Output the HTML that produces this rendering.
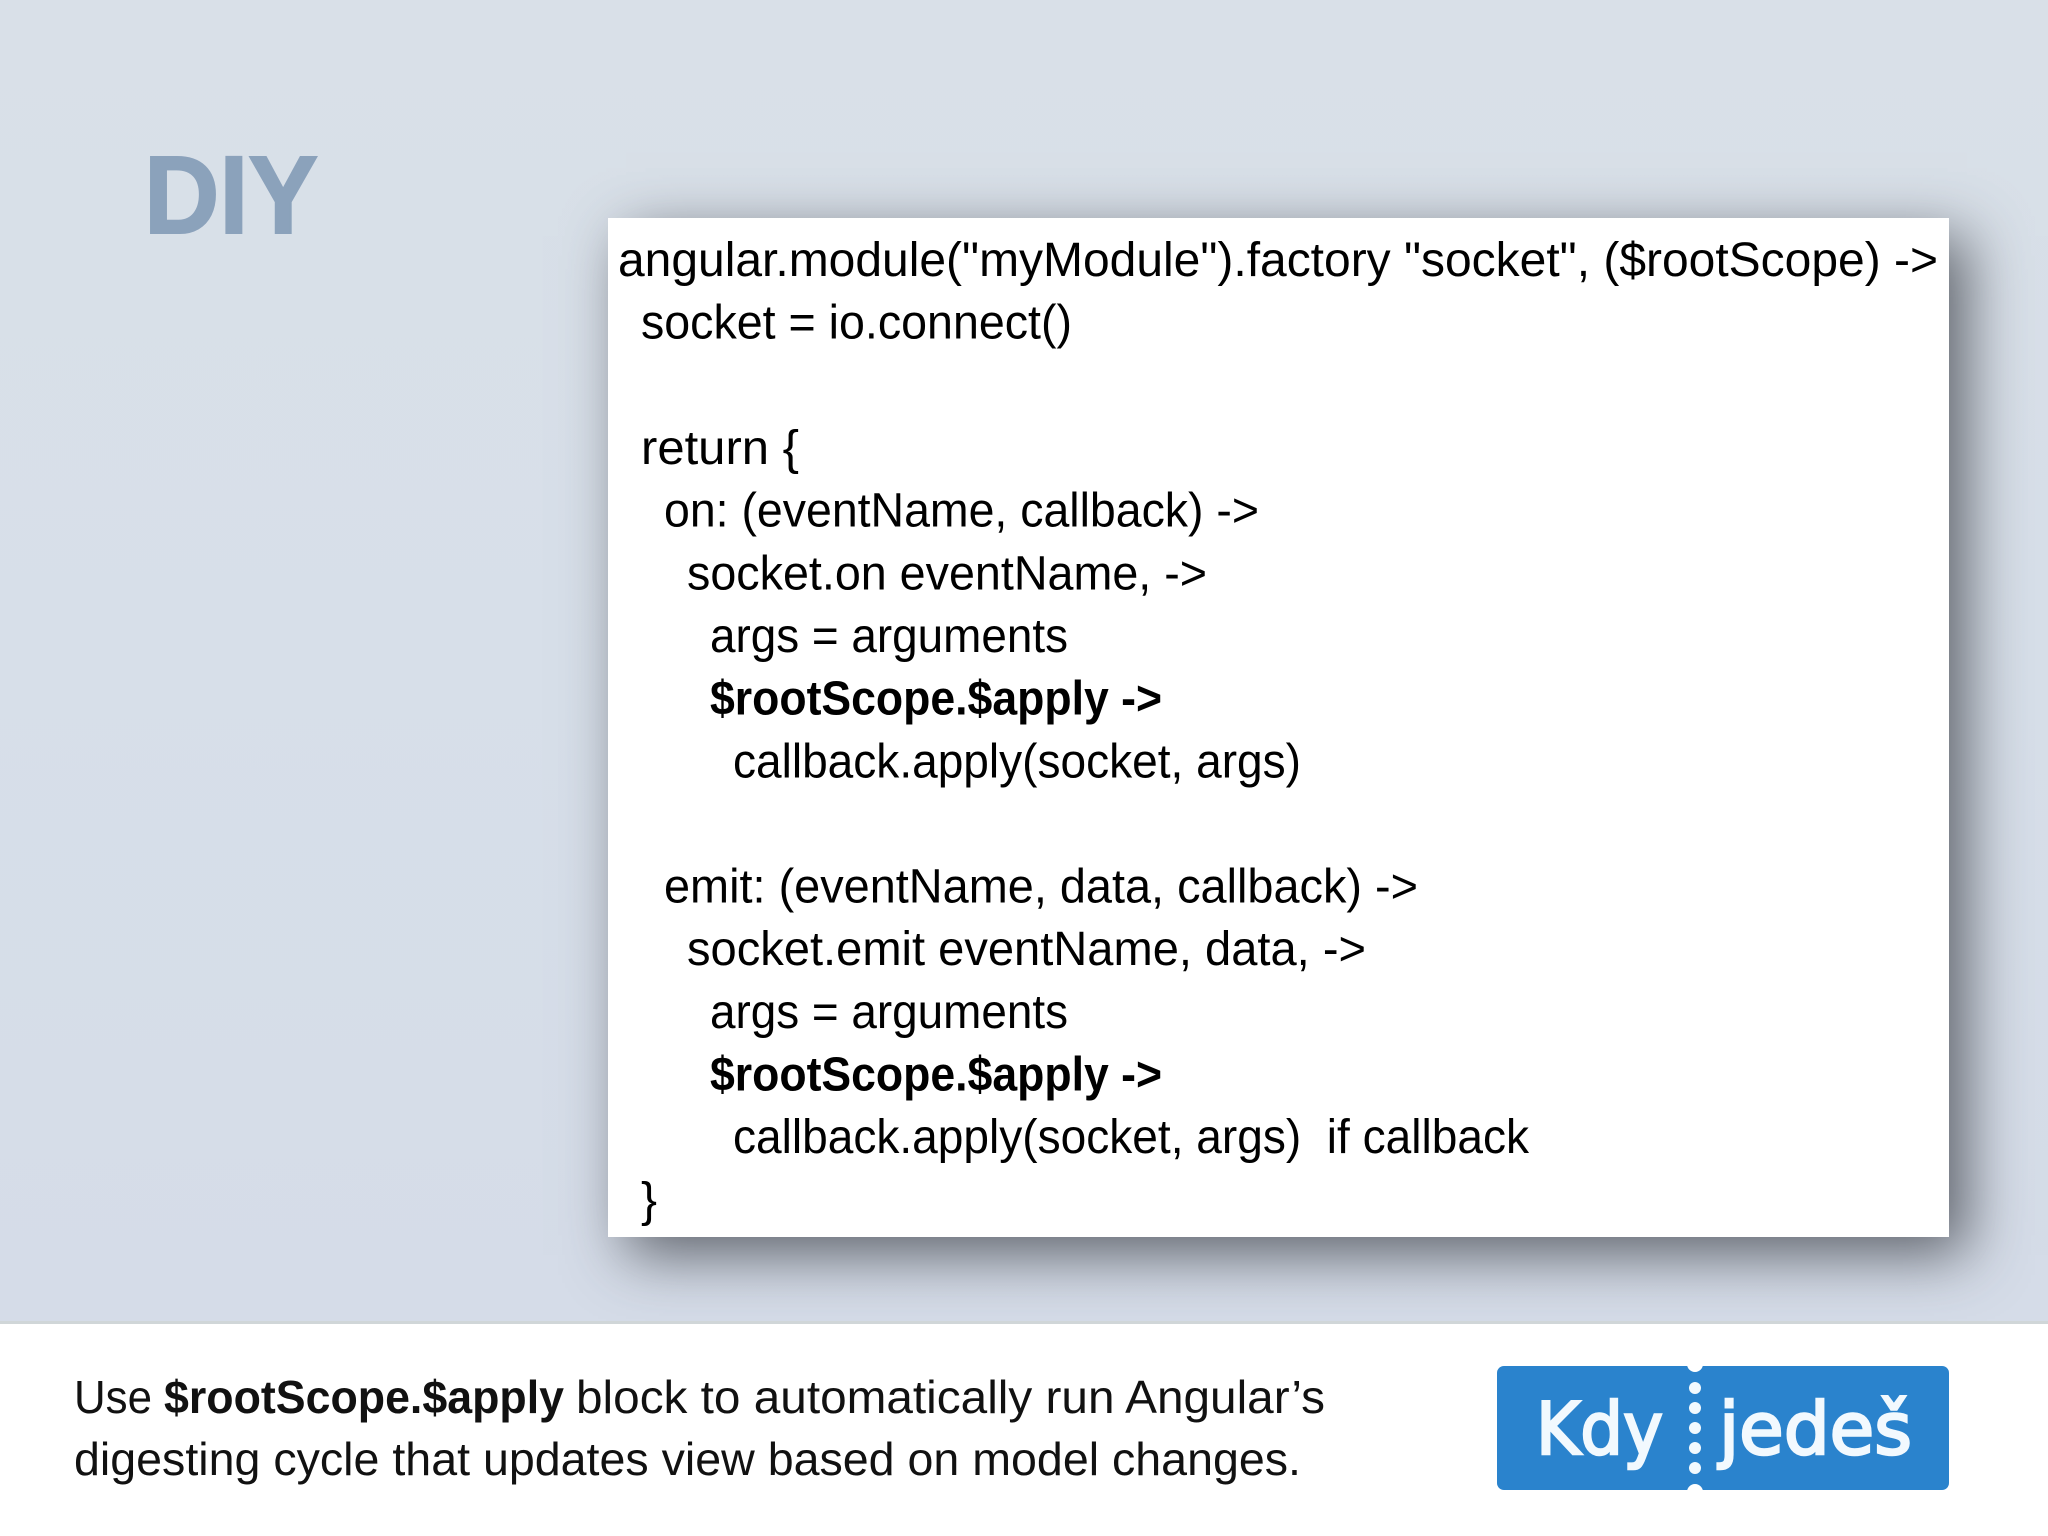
<!DOCTYPE html>
<html>
<head>
<meta charset="utf-8">
<style>
html,body{margin:0;padding:0;width:2048px;height:1536px;overflow:hidden;background:#fff}
svg{display:block}
text{font-family:"Liberation Sans",sans-serif;fill:#000;white-space:pre}
.c{font-size:48px}
.b{font-size:48px;font-weight:bold}
.f{font-size:46px;fill:#111}
.fb{font-size:46px;font-weight:bold;fill:#111}
.l{font-family:"DejaVu Sans",sans-serif;font-size:72px;fill:#f2f9fe;stroke:#f2f9fe;stroke-width:2.5px}
</style>
</head>
<body>
<div style="position:absolute;left:0;top:0;width:2048px;height:1323px;background:linear-gradient(180deg,#d9e0e8 0%,#d7dfe9 50%,#d5dce8 100%);overflow:hidden">
  <div style="position:absolute;left:608px;top:218px;width:1341px;height:1019px;background:#fff;box-shadow:18px 18px 56px rgba(50,52,60,.72)"></div>
</div>
<div style="position:absolute;left:0;top:1321px;width:2048px;height:3px;background:#d0d6d8"></div>
<svg width="2048" height="1536" viewBox="0 0 2048 1536" style="position:absolute;left:0;top:0">
  <text x="144" y="233" textLength="174" lengthAdjust="spacingAndGlyphs" style="font-size:110px;font-weight:bold;fill:#8ba2bb;stroke:#8ba2bb;stroke-width:2px">DIY</text>

  <text class="c" x="618" y="276" textLength="1320" lengthAdjust="spacingAndGlyphs">angular.module("myModule").factory "socket", ($rootScope) -&gt;</text>
  <text class="c" x="641" y="338.6" textLength="431" lengthAdjust="spacingAndGlyphs">socket = io.connect()</text>
  <text class="c" x="641" y="464" textLength="158" lengthAdjust="spacingAndGlyphs">return {</text>
  <text class="c" x="664" y="526.6" textLength="595" lengthAdjust="spacingAndGlyphs">on: (eventName, callback) -&gt;</text>
  <text class="c" x="687" y="589.3" textLength="520" lengthAdjust="spacingAndGlyphs">socket.on eventName, -&gt;</text>
  <text class="c" x="710" y="652" textLength="358" lengthAdjust="spacingAndGlyphs">args = arguments</text>
  <text class="b" x="710" y="714.6" textLength="452" lengthAdjust="spacingAndGlyphs">$rootScope.$apply -&gt;</text>
  <text class="c" x="733" y="777.3" textLength="568" lengthAdjust="spacingAndGlyphs">callback.apply(socket, args)</text>
  <text class="c" x="664" y="902.6" textLength="754" lengthAdjust="spacingAndGlyphs">emit: (eventName, data, callback) -&gt;</text>
  <text class="c" x="687" y="965.2" textLength="679" lengthAdjust="spacingAndGlyphs">socket.emit eventName, data, -&gt;</text>
  <text class="c" x="710" y="1027.9" textLength="358" lengthAdjust="spacingAndGlyphs">args = arguments</text>
  <text class="b" x="710" y="1090.5" textLength="452" lengthAdjust="spacingAndGlyphs">$rootScope.$apply -&gt;</text>
  <text class="c" x="733" y="1153.2" textLength="796" lengthAdjust="spacingAndGlyphs">callback.apply(socket, args)  if callback</text>
  <text class="c" x="641" y="1215.8" textLength="16" lengthAdjust="spacingAndGlyphs">}</text>

  <text class="f" x="74" y="1413" textLength="78" lengthAdjust="spacingAndGlyphs">Use</text>
  <text class="fb" x="164" y="1413" textLength="400" lengthAdjust="spacingAndGlyphs">$rootScope.$apply</text>
  <text class="f" x="576" y="1413" textLength="749" lengthAdjust="spacingAndGlyphs">block to automatically run Angular’s</text>
  <text class="f" x="74" y="1475" textLength="1227" lengthAdjust="spacingAndGlyphs">digesting cycle that updates view based on model changes.</text>

  <rect x="1497" y="1366" width="452" height="124" rx="7" fill="#2a83cd"/>
  <circle cx="1695" cy="1364" r="8" fill="#fff"/>
  <circle cx="1695" cy="1492" r="8" fill="#fff"/>
  <circle cx="1695" cy="1388" r="6" fill="#f2f9fe"/>
  <circle cx="1695" cy="1408" r="6" fill="#f2f9fe"/>
  <circle cx="1695" cy="1428" r="6" fill="#f2f9fe"/>
  <circle cx="1695" cy="1448" r="6" fill="#f2f9fe"/>
  <circle cx="1695" cy="1468" r="6" fill="#f2f9fe"/>
  <text class="l" x="1536" y="1454" textLength="127" lengthAdjust="spacingAndGlyphs">Kdy</text>
  <text class="l" x="1719" y="1454" textLength="193" lengthAdjust="spacingAndGlyphs">jedeš</text>
</svg>
</body>
</html>
